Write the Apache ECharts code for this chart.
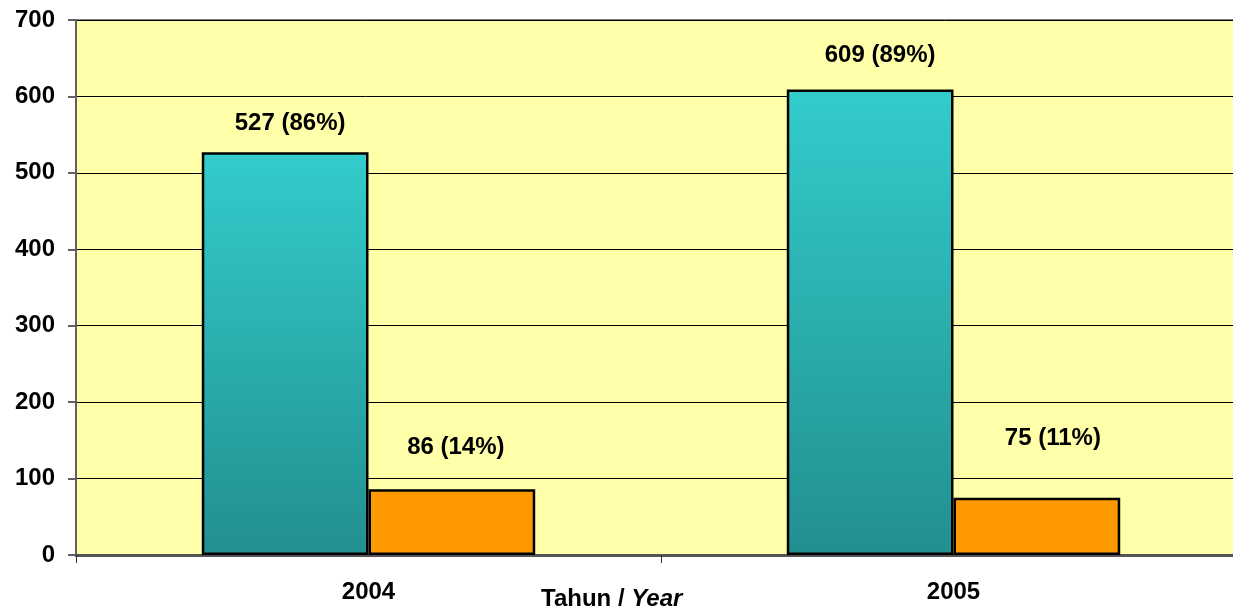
<!DOCTYPE html>
<html>
<head>
<meta charset="utf-8">
<script src="https://cdn.jsdelivr.net/npm/echarts@6/dist/echarts.min.js"></script>
<style>
  html, body { margin: 0; padding: 0; background: #fff; }
  #chart { width: 1233px; height: 614px; }
</style>
</head>
<body>
<div id="chart"></div>
<script>
// data
var years = ['2004', '2005'];
var seriesA = [527, 609];
var seriesB = [86, 75];
var labelsA = ['527 (86%)', '609 (89%)'];
var labelsB = ['86 (14%)', '75 (11%)'];
var yTicks = [0, 100, 200, 300, 400, 500, 600, 700];

// label nudges (layout only)
var nudgeA = [{ dist: 17, dx: 5 }, { dist: 22, dx: 10 }];
var nudgeB = [{ dist: 30, dx: 4 }, { dist: 47, dx: 16 }];

var chart = echarts.init(document.getElementById('chart'));

function withLabels(values, texts, nudge) {
  return values.map(function (v, i) {
    return {
      value: v,
      label: {
        show: true,
        position: 'top',
        distance: nudge[i].dist,
        offset: [nudge[i].dx, 0],
        formatter: texts[i]
      }
    };
  });
}

var labelFont = {
  fontFamily: 'Liberation Sans, Arial, sans-serif',
  fontWeight: 'bold',
  fontSize: 24,
  color: '#000'
};

var option = {
  animation: false,
  backgroundColor: '#ffffff',
  grid: {
    left: 76,
    top: 20,
    width: 1170,
    height: 535,
    containLabel: false,
    outerBoundsMode: 'none',
    show: true,
    backgroundColor: '#FFFFAA',
    borderColor: '#808080',
    borderWidth: 2
  },
  xAxis: {
    type: 'category',
    data: years,
    axisLine: { show: true, lineStyle: { color: '#555', width: 3 } },
    axisTick: { show: true, length: 8, lineStyle: { color: '#333', width: 1 } },
    axisLabel: Object.assign({ margin: 25 }, labelFont),
    splitLine: { show: false }
  },
  yAxis: {
    type: 'value',
    min: yTicks[0],
    max: yTicks[yTicks.length - 1],
    interval: yTicks[1] - yTicks[0],
    axisLine: { show: true, lineStyle: { color: '#606060', width: 2 } },
    axisTick: { show: true, length: 8, lineStyle: { color: '#606060', width: 2 } },
    axisLabel: Object.assign({ margin: 21 }, labelFont),
    splitLine: { show: true, lineStyle: { color: '#000', width: 1 } }
  },
  graphic: [{
    type: 'text',
    left: 541,
    top: 587,
    style: {
      text: '{b|Tahun / }{i|Year}',
      rich: {
        b: { fontFamily: 'Liberation Sans, Arial, sans-serif', fontWeight: 'bold', fontSize: 24, fill: '#000' },
        i: { fontFamily: 'Liberation Sans, Arial, sans-serif', fontWeight: 'bold', fontStyle: 'italic', fontSize: 24, fill: '#000' }
      }
    }
  }],
  series: [
    {
      type: 'bar',
      data: withLabels(seriesA, labelsA, nudgeA),
      barGap: '0%',
      barCategoryGap: '43%',
      itemStyle: {
        color: new echarts.graphic.LinearGradient(0, 0, 0, 1, [
          { offset: 0, color: '#33CCCC' },
          { offset: 1, color: '#228F8F' }
        ]),
        borderColor: '#000',
        borderWidth: 2.5
      },
      label: labelFont
    },
    {
      type: 'bar',
      data: withLabels(seriesB, labelsB, nudgeB),
      itemStyle: {
        color: '#FF9900',
        borderColor: '#000',
        borderWidth: 2.5
      },
      label: labelFont
    }
  ]
};

chart.setOption(option);
</script>
</body>
</html>
